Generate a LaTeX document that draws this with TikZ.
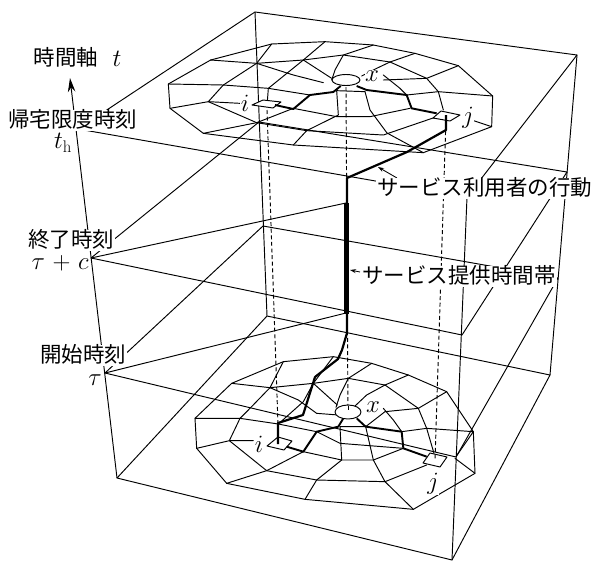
\documentclass[tikz,border=0pt]{standalone}
\usepackage{fontspec}
\newfontfamily\jp{Noto Sans CJK JP}
\usetikzlibrary{arrows.meta}
\tikzset{
  ln/.style={line width=0.95pt,line join=round,line cap=round,black},
  fat/.style={line width=2.2pt,line join=round,black},
  heavy/.style={line width=5pt,black},
  dsh/.style={line width=0.95pt,dash pattern=on 4pt off 2.6pt,black},
  lab/.style={fill=white,inner sep=1pt,text height=17pt,text depth=2pt,font=\fontsize{21.5}{24}\selectfont\jp},
  mth/.style={inner sep=0.4pt,fill=white,font=\fontsize{24}{26}\selectfont},
  sq/.style={line width=0.95pt,fill=white,line join=round},
  tipl/.style={line width=0.85pt,-{Stealth[length=6pt,width=4pt]}}
}
\begin{document}
\begin{tikzpicture}[x=1pt,y=-1pt]
\useasboundingbox (0,0) rectangle (594,563);
\fill[white] (0,0) rectangle (594,563);
% box
\draw[ln] (78,129)--(255,12)--(577,55)--(467,197)--cycle;
\draw[ln] (91,258)--(259,122)--(567,172)--(462,335)--cycle;
\draw[ln] (105,373)--(263,226)--(558,278)--(456,457)--cycle;
\draw[ln] (117,478)--(267,316)--(550,375)--(452,560)--cycle;
\draw[ln] (255,12)--(267,316);
\draw[ln] (577,55)--(550,375);
\draw[ln] (467,197)--(452,560);
\draw[ln] (91,258)--(346,203);
\draw[ln] (105,373)--(346,313);
\draw[ln,-{Stealth[length=14pt,width=7.5pt]}] (117,478)--(70,78);
% top mesh
\begin{scope}[shift={(90pt,0pt)},x=0.33333pt,y=-0.33333pt]
\draw[ln] (235,252)--(362,180)--(545,132)--(705,125)--(850,135)--(975,160)--(1105,197)--(1208,288)--(1205,380)--(1000,458)--(610,435)--(340,400)--(240,325)--cycle;
\draw[ln] (235,252)--(400,255)--(535,265)--(660,285);
\draw[ln] (240,325)--(355,305)--(450,310);
\draw[ln] (355,305)--(500,368)--(610,325)--(740,350)--(840,350)--(960,325);
\draw[ln] (340,400)--(500,368)--(650,392)--(880,405)--(1035,352);
\draw[ln] (610,435)--(650,392)--(745,345)--(740,272)--(825,275);
\draw[ln] (1000,458)--(891,399)--(840,330)--(825,275);
\draw[ln] (1205,380)--(1130,355);
\draw[ln] (362,180)--(500,190)--(640,180)--(760,165)--(900,186)--(975,160);
\draw[ln] (545,132)--(500,190)--(400,255)--(355,305);
\draw[ln] (500,190)--(610,225)--(700,248);
\draw[ln] (705,125)--(640,180)--(535,265)--(532,305);
\draw[ln] (850,135)--(760,165)--(735,210)--(725,240);
\draw[ln] (640,180)--(725,235);
\draw[ln] (900,186)--(860,205)--(815,228);
\draw[ln] (1105,197)--(1010,235)--(880,240);
\draw[ln] (900,186)--(1010,235)--(1045,275)--(1060,330);
\draw[ln] (880,225)--(930,265)--(950,285);
\draw[ln] (950,285)--(1045,275)--(1208,288);
\end{scope}
% bottom mesh
\begin{scope}[shift={(130pt,-350pt)},x=0.33333pt,y=-0.33333pt]
\draw[ln] (195,205)--(305,100)--(460,35)--(610,20)--(725,40)--(835,75)--(950,125)--(1030,245)--(1035,370)--(850,478)--(525,448)--(290,400)--(200,295)--cycle;
\draw[ln] (195,205)--(330,205)--(445,222)--(560,245)--(630,280)--(820,295);
\draw[ln] (200,295)--(298,272)--(370,272);
\draw[ln] (298,272)--(410,362)--(520,305)--(635,330)--(730,330)--(820,295);
\draw[ln] (290,400)--(410,362)--(560,390)--(765,395)--(890,345);
\draw[ln] (525,448)--(560,390)--(635,330)--(630,230)--(707,230);
\draw[ln] (850,478)--(765,395)--(730,330)--(707,230);
\draw[ln] (1035,370)--(975,325);
\draw[ln] (305,100)--(420,113)--(550,100)--(655,85)--(765,105)--(835,75);
\draw[ln] (460,35)--(420,113)--(355,180)--(330,205)--(298,272);
\draw[ln] (420,113)--(505,150)--(560,190)--(625,195);
\draw[ln] (610,20)--(550,100)--(520,155)--(445,222);
\draw[ln] (725,40)--(655,85)--(630,135)--(618,172);
\draw[ln] (550,100)--(622,165);
\draw[ln] (765,105)--(710,135)--(675,168);
\draw[ln] (950,125)--(865,175)--(765,185);
\draw[ln] (765,105)--(865,175)--(890,235)--(912,310);
\draw[ln] (760,175)--(790,210)--(815,245);
\draw[ln] (815,245)--(890,235)--(1030,245)--(978,320);
\draw[ln] (707,230)--(765,185);
\end{scope}
% squares and circles
\draw[sq] (252,105)--(263,100)--(281,102)--(273,108)--cycle;
\draw[sq] (433,118)--(441,111)--(460,115)--(450,121)--cycle;
\draw[sq] (267,446)--(278,437)--(292,441)--(284,450)--cycle;
\draw[sq] (423,463)--(430,453)--(447,457)--(440,467)--cycle;
% dashed
\draw[dsh] (267,110)--(278,424);
\draw[dsh] (346,87)--(348,415);
\draw[dsh] (446,118)--(435,460);
\draw[sq] (346,80) ellipse[x radius=14,y radius=5.5];
\draw[sq] (348,412) ellipse[x radius=13,y radius=7];
\draw[dsh] (348,406)--(348,412);
% user path
\draw[fat] (446,115)--(446,130)--(407,152)--(347,178)--(347,203);
\draw[heavy] (346,203)--(346,314);
\draw[fat] (347,314)--(347,333)--(342,350)--(338,359)--(315,377)--(303,415)--(278,423)--(278,444);
\begin{scope}[shift={(90pt,0pt)},x=0.33333pt,y=-0.33333pt]
\draw[fat,line width=1.9pt] (555,315)--(610,327)--(660,285)--(730,276)--(752,258);
\draw[fat,line width=1.9pt] (800,258)--(830,270)--(950,285)--(965,325)--(1040,340);
\end{scope}
\begin{scope}[shift={(130pt,-350pt)},x=0.33333pt,y=-0.33333pt]
\draw[fat,line width=1.9pt] (470,290)--(520,305)--(560,245)--(625,230)--(640,205);
\draw[fat,line width=1.9pt] (680,205)--(707,230)--(815,245)--(820,295)--(890,320);
\end{scope}
% leaders
\draw[tipl] (397,178)--(378,167);
\draw[tipl] (360,272)--(350,270);
% labels
\node[lab,anchor=center] (axis) at (66,58) {時間軸};
\node[mth] (tvar) at (117,59) {$t$};
\node[lab,anchor=west] (home) at (7,120) {帰宅限度時刻};
\node[mth] (th) at (63,143) {$t_{\mathrm{h}}$};
\node[lab,anchor=west] (endt) at (27,240) {終了時刻};
\node[mth,anchor=west] (endv) at (31,263) {$\tau\mskip1.5mu+\mskip1.5mu c$};
\node[lab,anchor=west] (startt) at (39,355) {開始時刻};
\node[mth,fill=none] (startv) at (95,380) {$\tau$};
\node[lab,anchor=west] (user) at (376,188) {サービス利用者の行動};
\node[lab,anchor=west] (serv) at (361,276) {サービス提供時間帯};
\node[mth] (xa) at (372,76) {$x$};
\node[mth] (ia) at (245,103) {$i$};
\node[mth] (ja) at (468,118) {$j$};
\node[mth] (xb) at (373,407) {$x$};
\node[mth] (ib) at (259,444) {$i$};
\node[mth] (jb) at (433,484) {$j$};
\end{tikzpicture}
\end{document}
